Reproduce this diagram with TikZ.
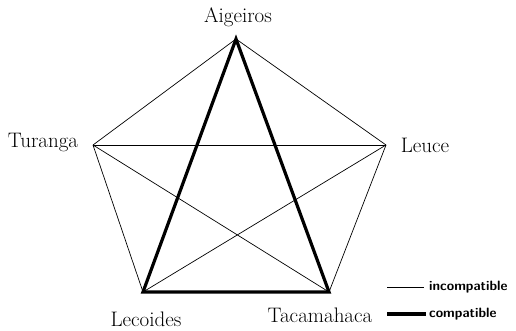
\documentclass[tikz,border=0pt]{standalone}
\usepackage{tikz}
\usetikzlibrary{positioning,calc}
\tikzset{
  incomp/.style={black,line width=0.7pt},
  comp/.style={black,line width=3.2pt,line cap=round},
  poplar/.style={font=\fontsize{21}{23}\selectfont,inner sep=0pt},
  legendtext/.style={font=\sffamily\bfseries\fontsize{13.5}{15}\selectfont,inner sep=0pt,anchor=west}
}

\begin{document}
\begin{tikzpicture}[x=1pt,y=-1pt]
    \useasboundingbox (0,0) rectangle (516,331);
    % the five sections as vertices
    \coordinate (aig) at (236,39);
    \coordinate (tur) at (93,145);
    \coordinate (leu) at (386,145);
    \coordinate (lec) at (143,292);
    \coordinate (tac) at (329,292);
    % their names
    \node[poplar] (aiglabel) at (238,17) {Aigeiros};
    \node[poplar] (turlabel) at (43,143) {Turanga};
    \node[poplar] (leulabel) at (425,145) {Leuce};
    \node[poplar] (leclabel) at (146,319) {Lecoides};
    \node[poplar] (taclabel) at (320,315) {Tacamahaca};
    % incompatible pairs
    \foreach \a/\b in {aig/tur,aig/leu,tur/leu,tur/lec,tur/tac,leu/lec,leu/tac}
        \draw[incomp] (\a) -- (\b);
    % compatible pairs
    \draw[comp] (lec) -- (aig) -- (tac) -- cycle;
    % legend
    \coordinate (thinA) at (387,287);  \coordinate (thinB) at (424,287);
    \coordinate (thickA) at (387,314); \coordinate (thickB) at (426,314);
    \draw[incomp] (thinA) -- (thinB);
    \draw[black,line width=3.5pt] (thickA) -- (thickB);
    \node[legendtext] (inctext) at (429,287) {incompatible};
    \node[legendtext] (comptext) at (429,314) {compatible};
\end{tikzpicture}
\end{document}
